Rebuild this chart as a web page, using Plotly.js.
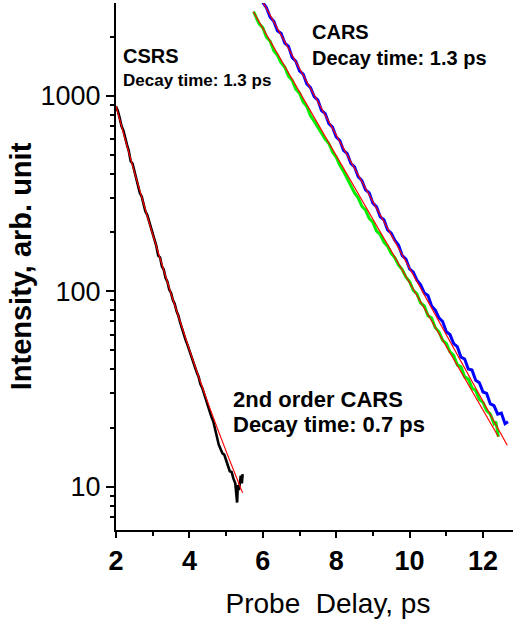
<!DOCTYPE html>
<html>
<head>
<meta charset="utf-8">
<script src="https://cdn.plot.ly/plotly-3.0.1.min.js"></script>
<style>
html,body{margin:0;padding:0;overflow:hidden;background:#fff;}
#chart{width:540px;height:626px;}
</style>
</head>
<body>
<div id="chart"></div>
<script>
// 2nd order CARS / CSRS curve (black)
const csrsX = [2.00,2.05,2.10,2.15,2.20,2.25,2.30,2.35,2.40,2.45,2.50,2.55,2.60,2.65,2.70,2.75,2.80,2.85,2.90,2.95,
  3.00,3.05,3.10,3.15,3.20,3.25,3.30,3.35,3.40,3.45,3.50,3.55,3.60,3.65,3.70,3.75,3.80,3.85,3.90,3.95,
  4.00,4.05,4.10,4.15,4.20,4.25,4.30,4.35,4.40,4.45,4.50,4.55,4.60,4.65,4.70,4.75,4.80,4.85,4.90,4.95,
  5.00,5.05,5.10,5.15,5.20,5.25,5.30,5.32,5.35,5.40,5.43,5.45];
const csrsY = [880,835,770,700,665,598,560,520,462,450,410,372,352,318,305,280,256,246,228,212,
  196,185,170,152,149,134,129,117,112,102,98,90,86,79,75,69,64,61,56,53,
  49.5,46,44,41,38.5,36.5,33.5,32,29.8,28,26,24.5,22.8,21.6,19.8,18.2,16.4,15.6,14.8,14.6,
  13.5,12.8,12.0,11.9,11.0,10.4,8.3,10.2,9.6,11.4,10.4,11.6];

// CARS curve (blue)
const blueX = [6.0,6.1,6.2,6.3,6.4,6.5,6.6,6.7,6.8,6.9,7.0,7.1,7.2,7.3,7.4,7.5,7.6,7.7,7.8,7.9,
  8.0,8.1,8.2,8.3,8.4,8.5,8.6,8.7,8.8,8.9,9.0,9.1,9.2,9.3,9.4,9.5,9.6,9.7,9.8,9.9,
  10.0,10.1,10.2,10.3,10.4,10.5,10.6,10.7,10.8,10.9,11.0,11.1,11.2,11.3,11.4,11.5,11.6,11.7,11.8,11.9,
  12.0,12.1,12.2,12.3,12.4,12.5,12.6,12.68];
const blueY = [3000,2820,2520,2400,2150,2080,1860,1790,1570,1500,1340,1290,1150,1100,990,950,840,810,720,690,
  615,590,525,505,450,432,385,368,330,318,282,270,240,232,206,198,182,172,152,146,
  130,125,114,108,98,95,84,80,73,70,62,60,54,52,46,45,40,39.5,35,34,
  30.5,30,26.5,26,23.5,23.8,21,21.5];

// CARS curve (green)
const greenX = [5.75,5.8,5.9,6.0,6.1,6.2,6.3,6.4,6.5,6.6,6.7,6.8,6.9,7.0,7.1,7.2,7.3,7.4,7.5,7.6,7.7,7.8,7.9,
  8.0,8.1,8.2,8.3,8.4,8.5,8.6,8.7,8.8,8.9,9.0,9.1,9.2,9.3,9.4,9.5,9.6,9.7,9.8,9.9,
  10.0,10.1,10.2,10.3,10.4,10.5,10.6,10.7,10.8,10.9,11.0,11.1,11.2,11.3,11.4,11.5,11.6,11.7,11.8,11.9,
  12.0,12.1,12.2,12.3,12.35,12.4,12.42];
const greenY = [2690,2560,2330,2230,1990,1900,1700,1610,1470,1400,1260,1200,1080,1030,930,880,790,740,690,650,600,570,515,
  485,440,410,375,350,318,300,272,260,236,225,203,195,178,170,156,148,136,129,118,
  112,101,97,87,84,75,73,65,62,56,54,49,47,42,41,36.5,35.5,32,31,28,
  27,24.5,23.5,21,21.5,18.5,18];

// exponential fits (red)
const fitCsrsX = [2.0,2.5,3.0,3.5,4.0,4.5,5.0,5.45];
const fitCsrsY = [887,408,195,97,50.2,27.0,15.2,9.3];
const fitBlueX = [6.0,12.66];
const fitBlueY = [3020,16.3];
const fitGreenX = [5.74,12.42];
const fitGreenY = [2690,18.0];

const xTickVals = [2,4,6,8,10,12];
const yTickVals = [10,100,1000];
const yTickText = ['10','100','1000'];

const FONT = 'Liberation Sans, Arial, sans-serif';

const traces = [
  {x: csrsX, y: csrsY, mode:'lines', line:{color:'#000000', width:2.6}, hoverinfo:'skip'},
  {x: greenX, y: greenY, mode:'lines', line:{color:'#00ee00', width:3}, hoverinfo:'skip'},
  {x: blueX, y: blueY, mode:'lines', line:{color:'#0000ff', width:3}, hoverinfo:'skip'},
  {x: fitCsrsX, y: fitCsrsY, mode:'lines', line:{color:'#ff0000', width:1.2, shape:'spline'}, hoverinfo:'skip'},
  {x: fitGreenX, y: fitGreenY, mode:'lines', line:{color:'#ff0000', width:1.2}, hoverinfo:'skip'},
  {x: fitBlueX, y: fitBlueY, mode:'lines', line:{color:'#ff0000', width:1.2}, hoverinfo:'skip'}
];

const W = 540, L = 116;
function px(p){ return (p - L) / (W - L); }
const plotTop = 3, plotBot = 530;
function py(p){ return (plotBot - p) / (plotBot - plotTop); }

function ann(text, xPix, yPix, size){
  return {text: text, xref:'paper', yref:'paper', x: px(xPix), y: py(yPix),
    xanchor:'left', yanchor:'middle', showarrow:false,
    font:{family:FONT, size:size, color:'#000', weight:'bold'}};
}

const layout = {
  width: W, height: 626,
  margin: {l: L, r: 0, t: plotTop, b: 626 - plotBot},
  paper_bgcolor:'#fff', plot_bgcolor:'#fff',
  showlegend:false,
  font:{family:FONT, color:'#000'},
  xaxis: {
    range:[2, 2 + (W - L) / 36.7],
    tickmode:'array', tickvals: xTickVals,
    ticks:'outside', ticklen:6, tickwidth:2, tickcolor:'#000',
    minor:{dtick:1, tick0:0, ticks:'outside', ticklen:4, tickwidth:2, tickcolor:'#000'},
    showline:true, linewidth:2, linecolor:'#000',
    showgrid:false, zeroline:false,
    tickfont:{family:FONT, size:27, weight:'bold', color:'#000'},
    title:{text:'Probe\u00a0 Delay, ps', font:{family:FONT, size:28, color:'#000'}, standoff:18}
  },
  xaxis2: {
    overlaying:'x', side:'top', anchor:'y', matches:'x',
    range:[2, 2 + (W - L) / 36.7],
    dtick:0.5, tick0:0, ticks:'outside', ticklen:4, tickwidth:1.5, tickcolor:'#000',
    showticklabels:false, showline:true, linewidth:2, linecolor:'#000',
    showgrid:false, zeroline:false
  },
  yaxis: {
    type:'log', range:[0.7785, 3.4742],
    tickmode:'array', tickvals: yTickVals, ticktext: yTickText,
    ticks:'outside', ticklen:8, tickwidth:2, tickcolor:'#000',
    minor:{dtick:'D1', ticks:'outside', ticklen:4, tickwidth:2, tickcolor:'#000'},
    showline:true, linewidth:2, linecolor:'#000',
    showgrid:false, zeroline:false,
    tickfont:{family:FONT, size:27, color:'#000'},
    title:{text:'Intensity, arb. unit\u00a0\u00a0', font:{family:FONT, size:29, color:'#000', weight:'bold'}, standoff:0}
  },
  annotations: [
    ann('CSRS', 121, 56, 20),
    ann('Decay time: 1.3 ps', 121, 80, 17),
    ann('CARS', 310, 32, 20),
    ann('Decay time: 1.3 ps', 310, 58, 20),
    ann('2nd order CARS', 231, 399, 22),
    ann('Decay time: 0.7 ps', 231, 424, 22)
  ]
};

Plotly.newPlot('chart', traces, layout, {staticPlot:true, displayModeBar:false});
</script>
</body>
</html>
